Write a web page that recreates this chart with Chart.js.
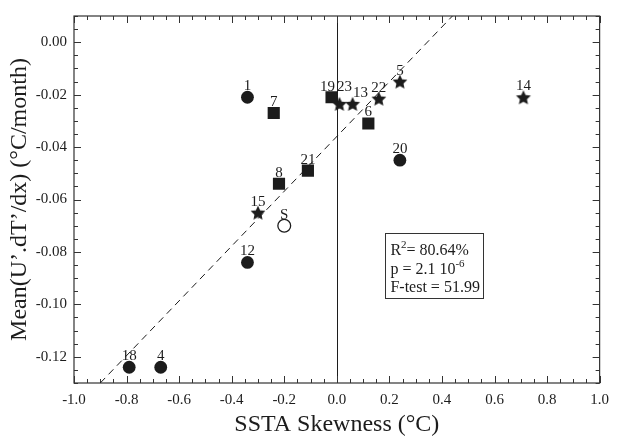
<!DOCTYPE html>
<html>
<head>
<meta charset="utf-8">
<script src="https://cdn.jsdelivr.net/npm/chart.js@4.4.1/dist/chart.umd.min.js"></script>
<style>
  html, body { margin: 0; padding: 0; background: #fff; }
  canvas { display: block; }
</style>
</head>
<body>
<canvas id="skewness_advection" width="617" height="437"></canvas>
<script>
// one entry per experiment
const pointNames = ['1', '7', '19', '23', '13', '22', '5', '6', '20', '14', '21', '8', '15', 'S', '12', '18', '4'];
const skewness   = [-0.34, -0.24, -0.02, 0.01, 0.06, 0.16, 0.24, 0.12, 0.24, 0.71, -0.11, -0.22, -0.30, -0.20, -0.34, -0.79, -0.67];
const advection  = [-0.021, -0.027, -0.021, -0.0235, -0.0235, -0.0215, -0.015, -0.031, -0.045, -0.021, -0.049, -0.054, -0.065, -0.070, -0.084, -0.124, -0.124];
const markerKind = ['circle', 'square', 'square', 'star', 'star', 'star', 'star', 'square', 'circle', 'star',
                    'square', 'square', 'star', 'open', 'circle', 'circle', 'circle'];

// least squares fit, ends clipped to the frame
const fitX = [-0.9, 0.44];
const fitY = [-0.13, 0.01];

const xTicks = [-1.0, -0.8, -0.6, -0.4, -0.2, 0.0, 0.2, 0.4, 0.6, 0.8, 1.0];
const yTicks = [0.00, -0.02, -0.04, -0.06, -0.08, -0.10, -0.12];

const statsText = ['R|2|= 80.64%', 'p = 2.1 10|-6|', 'F-test = 51.99'];

const ink = '#1c1c1c';
const serif = '"Liberation Serif", "Times New Roman", serif';

function makeStar(outer, inner, color) {
    const size = Math.ceil(outer * 2) + 2;
    const c = document.createElement('canvas');
    c.width = c.height = size;
    const g = c.getContext('2d');
    const cx = size / 2, cy = size / 2 + outer * 0.1;
    g.beginPath();
    for (let i = 0; i < 10; i++) {
        const r = i % 2 ? inner : outer;
        const a = -Math.PI / 2 + i * Math.PI / 5;
        g.lineTo(cx + r * Math.cos(a), cy + r * Math.sin(a));
    }
    g.closePath();
    g.fillStyle = color;
    g.fill();
    return c;
}

const markerStyles = {
    circle: { pointStyle: 'circle', pointRadius: 6.4, backgroundColor: ink, borderColor: ink, borderWidth: 0 },
    square: { pointStyle: 'rect', pointRadius: 8.6, backgroundColor: ink, borderColor: ink, borderWidth: 0 },
    star:   { pointStyle: makeStar(7.8, 3.7, ink), pointRadius: 7, backgroundColor: ink, borderColor: ink, borderWidth: 0 },
    open:   { pointStyle: 'circle', pointRadius: 6.4, backgroundColor: '#fff', borderColor: ink, borderWidth: 1.3 }
};

const datasets = Object.keys(markerStyles).map(kind => {
    const idx = markerKind.map((k, i) => k === kind ? i : -1).filter(i => i >= 0);
    return Object.assign({
        type: 'scatter',
        names: idx.map(i => pointNames[i]),
        data: idx.map(i => ({ x: skewness[i], y: advection[i] }))
    }, markerStyles[kind]);
});

datasets.unshift({
    type: 'line',
    data: fitX.map((x, i) => ({ x: x, y: fitY[i] })),
    borderColor: ink,
    borderWidth: 1,
    borderDash: [7, 5],
    pointRadius: 0,
    fill: false
});

// small shifts for labels that would overlap
const labelNudge = { '19': [-4, 1], '23': [5, -6], '13': [8, 0] };

const framePlugin = {
    id: 'frame',
    beforeDatasetsDraw(chart) {
        const { ctx, chartArea: a, scales: { x, y } } = chart;
        ctx.save();
        ctx.strokeStyle = '#333';
        ctx.lineWidth = 1.2;
        ctx.strokeRect(a.left, a.top, a.right - a.left, a.bottom - a.top);

        // vertical line at zero skewness
        const x0 = Math.round(x.getPixelForValue(0)) + 0.5;
        ctx.beginPath();
        ctx.moveTo(x0, a.top);
        ctx.lineTo(x0, a.bottom);
        ctx.lineWidth = 1;
        ctx.strokeStyle = ink;
        ctx.stroke();

        // inward ticks on all four sides
        ctx.strokeStyle = '#333';
        ctx.lineWidth = 1;
        ctx.beginPath();
        for (let k = -20; k <= 20; k++) {
            const v = k * 0.05;
            const px = Math.round(x.getPixelForValue(v)) + 0.5;
            const len = k % 4 === 0 ? 7 : 4;
            ctx.moveTo(px, a.bottom); ctx.lineTo(px, a.bottom - len);
            ctx.moveTo(px, a.top); ctx.lineTo(px, a.top + len);
        }
        for (let k = -26; k <= 2; k++) {
            const v = k * 0.005;
            const py = Math.round(y.getPixelForValue(v)) + 0.5;
            const len = k % 4 === 0 ? 7 : 4;
            ctx.moveTo(a.left, py); ctx.lineTo(a.left + len, py);
            ctx.moveTo(a.right, py); ctx.lineTo(a.right - len, py);
        }
        ctx.stroke();
        ctx.restore();
    },
    afterDatasetsDraw(chart) {
        const { ctx, scales: { x, y } } = chart;
        ctx.save();
        ctx.fillStyle = ink;
        ctx.font = '15px ' + serif;
        ctx.textAlign = 'center';
        ctx.textBaseline = 'alphabetic';
        chart.data.datasets.forEach((ds, di) => {
            if (!ds.names) return;
            chart.getDatasetMeta(di).data.forEach((pt, i) => {
                const nudge = labelNudge[ds.names[i]] || [0, 0];
                ctx.fillText(ds.names[i], pt.x + nudge[0], pt.y - 7 + nudge[1]);
            });
        });

        // regression statistics box
        const left = x.getPixelForValue(0.183);
        const top = y.getPixelForValue(-0.0729);
        const w = 98, h = 65;
        ctx.fillStyle = '#fff';
        ctx.fillRect(left, top, w, h);
        ctx.strokeStyle = '#333';
        ctx.lineWidth = 1;
        ctx.strokeRect(Math.round(left) + 0.5, Math.round(top) + 0.5, w, h);
        ctx.fillStyle = ink;
        ctx.textAlign = 'left';
        statsText.forEach((line, li) => {
            let cx = left + 5.5;
            const base = top + 21.6 + li * 18.7;
            line.split('|').forEach((part, pi) => {
                const sup = pi % 2 === 1;
                ctx.font = (sup ? '11px ' : '16px ') + serif;
                ctx.fillText(part, cx, sup ? base - 7 : base);
                cx += ctx.measureText(part).width;
            });
        });
        ctx.restore();
    }
};

const ctx = document.getElementById('skewness_advection').getContext('2d');
const chart = new Chart(ctx, {
    data: { datasets: datasets },
    options: {
        responsive: false,
        animation: false,
        layout: { padding: { top: 10, right: 13, bottom: 0, left: 0 } },
        plugins: {
            legend: { display: false },
            tooltip: { enabled: false }
        },
        scales: {
            x: {
                type: 'linear',
                min: -1,
                max: 1,
                afterBuildTicks: s => { s.ticks = xTicks.map(v => ({ value: v })); },
                afterFit: s => { s.height = 54; },
                grid: { display: false, drawTicks: false },
                border: { display: false },
                ticks: {
                    autoSkip: false,
                    maxRotation: 0,
                    padding: 8,
                    color: ink,
                    font: { family: serif, size: 15 },
                    callback: v => v.toFixed(1)
                },
                title: {
                    display: true,
                    text: 'SSTA Skewness (°C)',
                    color: ink,
                    font: { family: serif, size: 24, lineHeight: 1 },
                    padding: { top: 0, bottom: 0 }
                }
            },
            y: {
                type: 'linear',
                min: -0.13,
                max: 0.01,
                afterBuildTicks: s => { s.ticks = yTicks.map(v => ({ value: v })); },
                afterFit: s => { s.width = 74; },
                grid: { display: false, drawTicks: false },
                border: { display: false },
                ticks: {
                    autoSkip: false,
                    padding: 7,
                    color: ink,
                    font: { family: serif, size: 15 },
                    callback: v => v.toFixed(2)
                },
                title: {
                    display: true,
                    text: 'Mean(U’.dT’/dx) (°C/month)',
                    color: ink,
                    font: { family: serif, size: 24, lineHeight: 1 },
                    padding: { top: 8, bottom: 0 }
                }
            }
        }
    },
    plugins: [framePlugin]
});
</script>
</body>
</html>
